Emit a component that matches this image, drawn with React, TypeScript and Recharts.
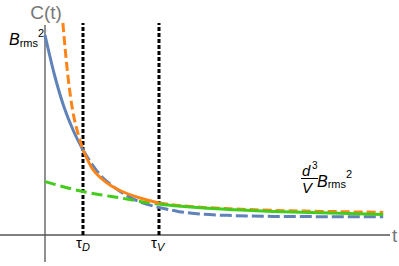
import React from "react";
import { LineChart, Line, XAxis, YAxis, ReferenceLine } from "recharts";

// time in units of tau_D, value in units of B_rms^2
const tauD = 1;
const tauV = 3;

const blueT = [0, 0.25, 0.5, 0.75, 1, 1.25, 1.5, 1.75, 2, 2.5, 3, 3.5, 4, 5, 6, 7, 8, 8.9];
const blueC = [1.0, 0.8, 0.64, 0.52, 0.425, 0.35, 0.29, 0.25, 0.215, 0.165, 0.138, 0.118, 0.106, 0.097, 0.093, 0.092, 0.091, 0.091];

const orangeT = [0.47, 0.6, 0.75, 0.85, 1, 1.25, 1.5, 1.75, 2, 2.5, 3, 3.5, 4, 5, 6, 7, 8, 8.9];
const orangeC = [1.06, 0.8, 0.6, 0.52, 0.425, 0.33, 0.28, 0.245, 0.22, 0.185, 0.16, 0.148, 0.14, 0.13, 0.123, 0.119, 0.116, 0.113];

const greenT = [0, 0.5, 1, 1.5, 2, 2.5, 3, 3.5, 4, 5, 6, 7, 8, 8.9];
const greenC = [0.267, 0.24, 0.217, 0.2, 0.185, 0.168, 0.155, 0.145, 0.137, 0.126, 0.118, 0.112, 0.107, 0.103];

const BLUE = "#5f82b8";
const ORANGE = "#ff8418";
const GREEN = "#44cc1c";
const AXIS = "#555555";
const FONT = "'Liberation Sans', Arial, sans-serif";

const pts = (ts: number[], cs: number[], lo: number, hi: number) =>
  ts.map((t, i) => ({ t, c: cs[i] })).filter((p) => p.t >= lo && p.t <= hi);

const blueSolid = pts(blueT, blueC, 0, tauD);
const blueDash = pts(blueT, blueC, tauD, 99);
const orangeDash1 = pts(orangeT, orangeC, 0, tauD);
const orangeSolid = pts(orangeT, orangeC, tauD, tauV);
const orangeDash2 = pts(orangeT, orangeC, tauV, 99);
const greenDash = pts(greenT, greenC, 0, tauV);
const greenSolid = pts(greenT, greenC, tauV, 99);

export default function App() {
  const common = { dataKey: "c", dot: false, isAnimationActive: false, type: "monotone" as const, strokeWidth: 3 };
  return (
    <div style={{ position: "absolute", left: 0, top: 0, width: 399, height: 266, background: "#fff" }}>
      <LineChart width={399} height={266} margin={{ top: 22, right: 9, bottom: 4, left: 0 }}>
        <XAxis type="number" dataKey="t" domain={[-1.184, 9.079]} hide allowDataOverflow />
        <YAxis type="number" domain={[-0.135, 1.065]} hide allowDataOverflow />
        <ReferenceLine y={0} stroke={AXIS} strokeWidth={1.3} />
        <ReferenceLine segment={[{ x: 0, y: -0.135 }, { x: 0, y: 1.05 }]} stroke={AXIS} strokeWidth={1.3} />
        <ReferenceLine segment={[{ x: tauD, y: 0 }, { x: tauD, y: 1.06 }]} stroke="#000" strokeWidth={3} strokeDasharray="4 2" />
        <ReferenceLine segment={[{ x: tauV, y: 0 }, { x: tauV, y: 1.06 }]} stroke="#000" strokeWidth={3} strokeDasharray="4 2" />
        <Line {...common} data={blueDash} stroke={BLUE} strokeDasharray="12 4" />
        <Line {...common} data={blueSolid} stroke={BLUE} />
        <Line {...common} data={greenDash} stroke={GREEN} strokeDasharray="11 5" />
        <Line {...common} data={orangeDash2} stroke={ORANGE} strokeDasharray="9 4" />
        <Line {...common} data={orangeDash1} stroke={ORANGE} strokeDasharray="9 4" />
        <Line {...common} data={orangeSolid} stroke={ORANGE} />
        <Line {...common} data={greenSolid} stroke={GREEN} />
      </LineChart>
      <svg width={399} height={266} style={{ position: "absolute", left: 0, top: 0, pointerEvents: "none" }}>
        <g fontFamily={FONT}>
          <text x={46} y={19} fontSize={19} fill="#777" textAnchor="middle">C(t)</text>
          <text x={392} y={242} fontSize={19} fill="#777">t</text>
          <text x={9} y={45} fontSize={16} fill="#000">
            <tspan fontStyle="italic">B</tspan>
            <tspan fontSize={11} dy={2}>rms</tspan>
            <tspan fontSize={11} dy={-10}>2</tspan>
          </text>
          <text x={76} y={248} fontSize={15} fill="#000">
            τ<tspan fontSize={11} fontStyle="italic" dy={3}>D</tspan>
          </text>
          <text x={151} y={248} fontSize={15} fill="#000">
            τ<tspan fontSize={11} fontStyle="italic" dy={3}>V</tspan>
          </text>
          <text x={302} y={175.5} fontSize={15} fontStyle="italic" fill="#000">d</text>
          <text x={312} y={169} fontSize={10} fill="#000">3</text>
          <line x1={301} x2={318} y1={178.5} y2={178.5} stroke="#000" strokeWidth={1} />
          <text x={302} y={193} fontSize={15} fontStyle="italic" fill="#000">V</text>
          <text x={317} y={187} fontSize={16} fill="#000">
            <tspan fontStyle="italic">B</tspan>
            <tspan fontSize={11} dy={1}>rms</tspan>
            <tspan fontSize={11} dy={-10}>2</tspan>
          </text>
        </g>
      </svg>
    </div>
  );
}
